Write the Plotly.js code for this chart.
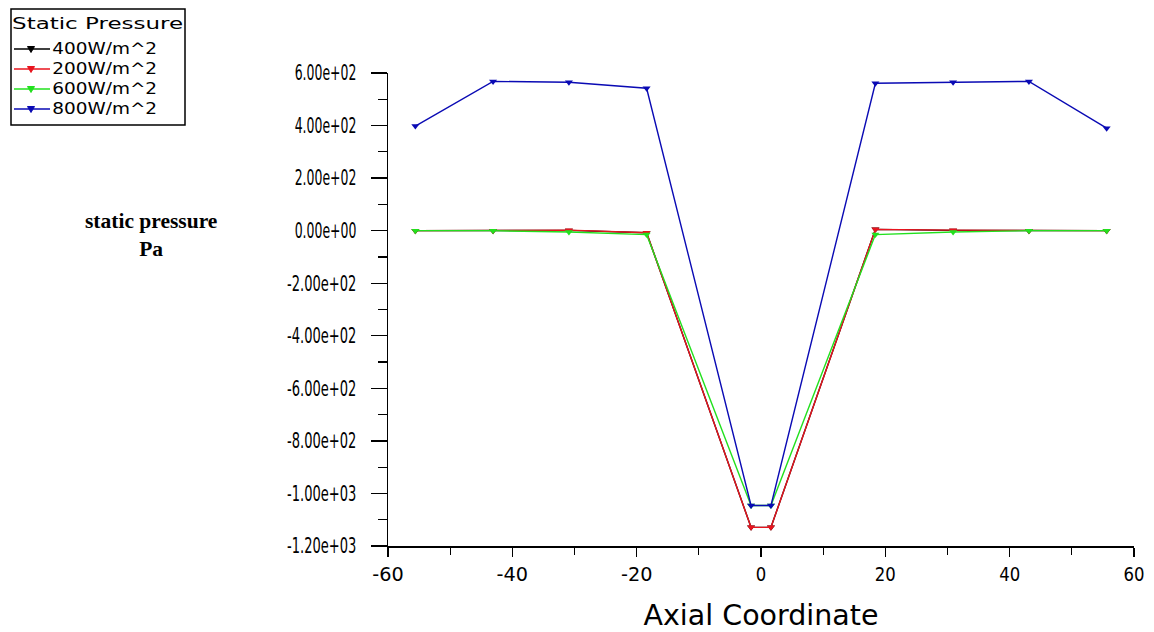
<!DOCTYPE html>
<html>
<head>
<meta charset="utf-8">
<script src="https://cdn.plot.ly/plotly-3.0.1.min.js"></script>
<style>
html,body{margin:0;padding:0;background:#fff;}
#chart{width:1154px;height:632px;}
</style>
</head>
<body>
<div id="chart"></div>
<script>
// Axial coordinate positions
const axial = [-55.6, -43.1, -30.9, -18.4, -1.6, 1.6, 18.4, 30.9, 43.1, 55.6];
// Static pressure (Pa) per heat flux
const p400 = [0, 0, 1, -8, -1129, -1129, 5, 1, 0, 0];
const p200 = [0, 0, 2, -8, -1129, -1129, 5, 2, 0, 0];
const p600 = [0, 0, -5, -15, -1046, -1046, -15, -5, 0, 0];
const p800 = [398, 568, 565, 542, -1046, -1046, 561, 565, 568, 390];

const seriesNames = ['400W/m^2', '200W/m^2', '600W/m^2', '800W/m^2'];
const seriesColors = ['#000000', '#e8141e', '#22e01e', '#0a0ab4'];
const seriesData = [p400, p200, p600, p800];
const legendTitle = 'Static Pressure';

const yTickVals = [600, 400, 200, 0, -200, -400, -600, -800, -1000, -1200];
const yTickText = ['6.00e+02','4.00e+02','2.00e+02','0.00e+00','-2.00e+02','-4.00e+02','-6.00e+02','-8.00e+02','-1.00e+03','-1.20e+03'];
const xTickVals = [-60, -40, -20, 0, 20, 40, 60];
const xTickText = ['-60','-40','-20','0','20','40','60'];

const FONT = '"DejaVu Sans", sans-serif';

// plot-area geometry (pixels)
const L = 388, R = 1134, T = 73, B = 546;
const px = v => (v - L) / (R - L);
const py = v => (B - v) / (B - T);

const traces = seriesData.map((d, i) => ({
  x: axial,
  y: d,
  name: seriesNames[i],
  type: 'scatter',
  mode: 'lines+markers',
  line: {color: seriesColors[i], width: 1.4},
  marker: {color: seriesColors[i], symbol: 'triangle-down', size: 7},
  showlegend: false
}));

// manual legend
const TITLE_W = 171, ENTRY_W = 105;
const shapes = [{
  type: 'rect', xref: 'paper', yref: 'paper',
  x0: px(11), x1: px(185), y0: py(125), y1: py(9),
  line: {color: '#000', width: 1.5}, fillcolor: '#fff', layer: 'above'
}];
const annotations = [{
  xref: 'paper', yref: 'paper', x: px(12 + TITLE_W / 2), y: py(24), xanchor: 'center', yanchor: 'middle',
  text: legendTitle, showarrow: false, borderpad: 0,
  font: {family: FONT, size: 16, color: '#000'}
}];
const rowY = [49, 69, 89, 109];
seriesNames.forEach((n, i) => {
  const yy = rowY[i];
  shapes.push({
    type: 'line', xref: 'paper', yref: 'paper',
    x0: px(14), x1: px(50), y0: py(yy), y1: py(yy),
    line: {color: seriesColors[i], width: 1.5}, layer: 'above'
  });
  const cx = 31, s = 3.5;
  shapes.push({
    type: 'path', xref: 'paper', yref: 'paper',
    path: `M ${px(cx - s)},${py(yy - s + 1)} L ${px(cx + s)},${py(yy - s + 1)} L ${px(cx)},${py(yy + s)} Z`,
    fillcolor: seriesColors[i], line: {color: seriesColors[i], width: 1}, layer: 'above'
  });
  annotations.push({
    xref: 'paper', yref: 'paper', x: px(52 + ENTRY_W / 2), y: py(yy), xanchor: 'center', yanchor: 'middle',
    text: n, showarrow: false, borderpad: 0,
    font: {family: FONT, size: 15, color: '#000'}
  });
});
annotations.push({
  xref: 'paper', yref: 'paper',
  x: px(151), y: py(235), xanchor: 'center', yanchor: 'middle',
  text: '<b>static pressure<br>Pa</b>',
  showarrow: false, align: 'center',
  font: {family: '"Liberation Serif", "Times New Roman", serif', size: 21.5, color: '#000'}
});

const layout = {
  width: 1154,
  height: 632,
  paper_bgcolor: '#ffffff',
  plot_bgcolor: '#ffffff',
  margin: {l: L, r: 1154 - R, t: T, b: 632 - B},
  showlegend: false,
  xaxis: {
    range: [-60, 60],
    tickvals: xTickVals,
    ticktext: xTickText,
    ticks: 'outside', ticklen: 9, tickcolor: '#000', tickwidth: 1.3,
    minor: {dtick: 10, ticklen: 7, tickcolor: '#000', ticks: 'outside', tickwidth: 1.3},
    showline: true, linecolor: '#000', linewidth: 1.5,
    showgrid: false, zeroline: false,
    tickfont: {family: FONT, size: 20, color: '#000'},
    title: {text: 'Axial Coordinate', font: {family: FONT, size: 29, color: '#000'}, standoff: 20}
  },
  yaxis: {
    range: [-1200, 600],
    tickvals: yTickVals,
    ticktext: yTickText,
    ticks: 'outside', ticklen: 16, tickcolor: '#000', tickwidth: 1.3,
    minor: {dtick: 100, ticklen: 9, tickcolor: '#000', ticks: 'outside', tickwidth: 1.3},
    showline: true, linecolor: '#000', linewidth: 1.5,
    showgrid: false, zeroline: false,
    ticklabelstandoff: 10,
    tickfont: {family: FONT, size: 21, color: '#000'}
  },
  shapes: shapes,
  annotations: annotations
};

function squeeze(el, w) {
  el.setAttribute('textLength', w);
  el.setAttribute('lengthAdjust', 'spacingAndGlyphs');
}

Plotly.newPlot('chart', traces, layout, {displayModeBar: false, staticPlot: true}).then(gd => {
  gd.querySelectorAll('.ytick text').forEach(t => squeeze(t, t.textContent.length * 7.7));
  gd.querySelectorAll('.xtick text').forEach(t => squeeze(t, t.textContent.length * 10.5));
  const xt = gd.querySelector('text.xtitle');
  if (xt) squeeze(xt, 235);
  gd.querySelectorAll('g.annotation text.annotation-text').forEach(t => {
    const s = t.textContent;
    if (s === legendTitle) squeeze(t, TITLE_W);
    else if (seriesNames.indexOf(s) >= 0) squeeze(t, ENTRY_W);
  });
});
</script>
</body>
</html>
